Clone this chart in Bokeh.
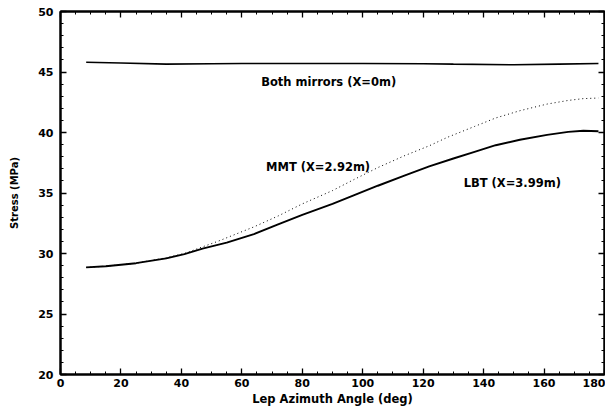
from bokeh.plotting import figure
from bokeh.models import LinearAxis, Range1d, SingleIntervalTicker, CustomJSTickFormatter
from bokeh.core.properties import value
from bokeh.embed import file_html
from bokeh.resources import INLINE

# ---- data ----
both_x = [8.5, 20, 35, 50, 60, 80, 100, 120, 130, 150, 165, 178]
both_y = [45.8, 45.75, 45.65, 45.68, 45.7, 45.7, 45.7, 45.68, 45.65, 45.6, 45.65, 45.7]

lbt_x = [8.5, 15, 25, 35, 41, 47, 55, 64, 72, 80, 90, 97, 105, 114, 122, 130, 137, 144, 152, 161, 168, 173, 178]
lbt_y = [28.85, 28.95, 29.2, 29.6, 29.95, 30.4, 30.9, 31.6, 32.4, 33.2, 34.1, 34.8, 35.6, 36.45, 37.2, 37.85, 38.4, 38.95, 39.4, 39.8, 40.05, 40.15, 40.1]

mmt_x = [8.5, 15, 25, 35, 41, 47, 52, 58, 64, 72, 80, 90, 97, 105, 114, 122, 128, 137, 144, 152, 161, 168, 173, 178]
mmt_y = [28.85, 28.95, 29.2, 29.65, 30.0, 30.55, 31.0, 31.6, 32.2, 33.1, 34.1, 35.2, 36.1, 37.1, 38.1, 38.9, 39.6, 40.5, 41.2, 41.8, 42.35, 42.65, 42.8, 42.85]

label_texts = ["Both mirrors (X=0m)", "MMT (X=2.92m)", "LBT (X=3.99m)"]

x_title = "Lep Azimuth Angle (deg)"
y_title = "Stress (MPa)"

FONT = "DejaVu Sans"

p = figure(width=605, height=408, output_backend="svg", toolbar_location=None,
           x_range=Range1d(0, 180), y_range=Range1d(20, 50),
           min_border_left=60, min_border_right=1, min_border_top=11, min_border_bottom=33)
p.grid.visible = False
p.outline_line_color = "black"
p.outline_line_width = 2
p.background_fill_color = "white"
p.border_fill_color = "white"

def style_axis(ax, ticker_interval, minor, labels=True):
    ax.ticker = SingleIntervalTicker(interval=ticker_interval, num_minor_ticks=minor)
    ax.major_tick_in = 6
    ax.major_tick_out = 0
    ax.minor_tick_in = 3
    ax.minor_tick_out = 0
    ax.axis_line_width = 2
    ax.major_tick_line_width = 1.3
    ax.minor_tick_line_width = 1
    ax.major_label_text_font = FONT
    ax.major_label_text_font_style = "bold"
    ax.major_label_text_font_size = "11px"
    ax.major_label_text_color = "black"
    ax.axis_label_text_font = FONT
    ax.axis_label_text_font_style = "bold"
    ax.axis_label_text_font_size = "11.5px"
    ax.axis_label_text_color = "black"
    if labels:
        ax.major_label_standoff = 4
        ax.axis_label_standoff = 2
    else:
        ax.formatter = CustomJSTickFormatter(code="return '';")
        ax.major_label_standoff = 0
        ax.axis_label_standoff = 0

style_axis(p.xaxis[0], 20, 4)
style_axis(p.yaxis[0], 5, 5)
p.xaxis[0].axis_label = x_title
p.yaxis[0].axis_label = y_title
p.yaxis[0].axis_label_text_font_size = "10px"
p.yaxis[0].major_label_standoff = 7
p.yaxis[0].axis_label_standoff = 15

top = LinearAxis()
style_axis(top, 20, 4, labels=False)
p.add_layout(top, "above")
right = LinearAxis()
style_axis(right, 5, 5, labels=False)
p.add_layout(right, "right")

p.line(both_x, both_y, line_color="black", line_width=1.6)
p.line(lbt_x, lbt_y, line_color="black", line_width=1.9)
p.line(mmt_x, mmt_y, line_color="black", line_width=1, line_dash="1 3")

p.text(x=[66.4, 68, 133.4], y=[44.17, 37.16, 35.8], text=label_texts,
       text_font=value(FONT), text_font_style="bold", text_font_size="11.5px",
       text_color="black", text_align="left", text_baseline="middle")

open("out.html", "w").write(file_html(p, INLINE))
